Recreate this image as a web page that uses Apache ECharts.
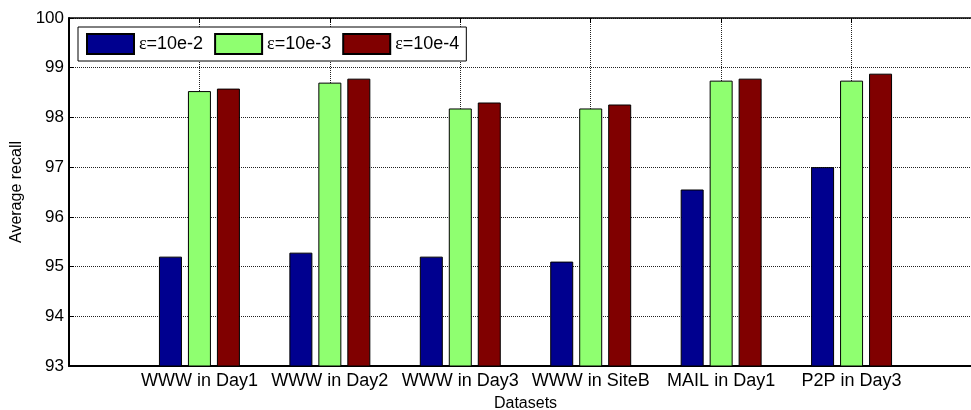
<!DOCTYPE html>
<html>
<head>
<meta charset="utf-8">
<script src="https://cdn.jsdelivr.net/npm/echarts@6/dist/echarts.min.js"></script>
<style>
  html, body { margin: 0; padding: 0; background: #fff; }
  #chart { width: 971px; height: 410px; }
</style>
</head>
<body>
<div id="chart"></div>
<script>
// Dataset names along the x axis
const categories = ['WWW in Day1', 'WWW in Day2', 'WWW in Day3', 'WWW in SiteB', 'MAIL in Day1', 'P2P in Day3'];

// Average recall per dataset for each epsilon setting
const recallE2 = [95.20, 95.28, 95.20, 95.10, 96.55, 97.00];
const recallE3 = [98.53, 98.70, 98.18, 98.18, 98.74, 98.74];
const recallE4 = [98.58, 98.78, 98.30, 98.26, 98.78, 98.88];

const seriesNames = ['ε=10e-2', 'ε=10e-3', 'ε=10e-4'];
const seriesColors = ['#00008F', '#8FFF70', '#800000'];

// y-axis range and step
const yMin = 93, yMax = 100, yStep = 1;

// x runs from 0 to 7 with the datasets at 1..6, so pad both ends with blank slots
const axisCats = [''].concat(categories, ['']);
const pad = v => [null].concat(v, [null]);
const seriesData = [recallE2, recallE3, recallE4];

const font = 'Liberation Sans, Arial, sans-serif';

const chart = echarts.init(document.getElementById('chart'), null, { renderer: 'canvas' });

chart.setOption({
  animation: false,
  backgroundColor: '#fff',
  textStyle: { fontFamily: font, color: '#000' },
  grid: {
    left: 69, top: 18, width: 913, height: 348,
    outerBoundsMode: 'none',
    containLabel: false,
    show: false
  },
  legend: {
    left: 78, top: 27,
    orient: 'horizontal',
    padding: [6, 7, 6, 8],
    itemWidth: 47, itemHeight: 20, itemGap: 11,
    backgroundColor: '#fff', borderColor: '#000', borderWidth: 1,
    icon: 'rect',
    formatter: name => '{e|ε}' + name.slice(1),
    textStyle: {
      fontSize: 18, color: '#000', fontFamily: font,
      rich: {
        e: { fontFamily: 'Liberation Serif, Times New Roman, serif', fontSize: 18, color: '#000' }
      }
    },
    data: seriesNames
  },
  xAxis: [{
    type: 'category',
    data: axisCats,
    boundaryGap: false,
    name: 'Datasets',
    nameLocation: 'middle',
    nameGap: 30,
    nameTextStyle: { fontSize: 16, color: '#000', fontFamily: font },
    axisLine: { show: true, lineStyle: { color: '#000', width: 2 } },
    axisTick: { show: true, inside: true, length: 5, lineStyle: { color: '#000' } },
    axisLabel: { interval: 0, fontSize: 18, color: '#000', margin: 6, fontFamily: font },
    splitLine: { show: true, interval: 0, lineStyle: { color: '#222', type: 'dotted', width: 1 } }
  }, {
    type: 'category',
    data: axisCats,
    boundaryGap: false,
    position: 'top',
    axisLine: { show: true, lineStyle: { color: '#000', width: 1.5 } },
    axisTick: { show: true, inside: true, length: 5, interval: 0, lineStyle: { color: '#000' } },
    axisLabel: { show: false },
    splitLine: { show: false }
  }],
  yAxis: {
    type: 'value',
    min: yMin, max: yMax, interval: yStep,
    name: 'Average recall',
    nameLocation: 'middle',
    nameGap: 44,
    nameTextStyle: { fontSize: 16, color: '#000', fontFamily: font },
    axisLine: { show: true, lineStyle: { color: '#000', width: 2 } },
    axisTick: { show: true, inside: true, length: 5, lineStyle: { color: '#000' } },
    axisLabel: { fontSize: 17, color: '#000', margin: 5, fontFamily: font },
    splitLine: { show: true, lineStyle: { color: '#222', type: 'dotted', width: 1 } }
  },
  series: seriesData.map((vals, i) => ({
    name: seriesNames[i],
    type: 'bar',
    xAxisIndex: 0,
    data: pad(vals),
    barWidth: 23,
    barGap: '26%',
    itemStyle: { color: seriesColors[i], borderColor: '#000', borderWidth: 1 }
  }))
});
</script>
</body>
</html>
